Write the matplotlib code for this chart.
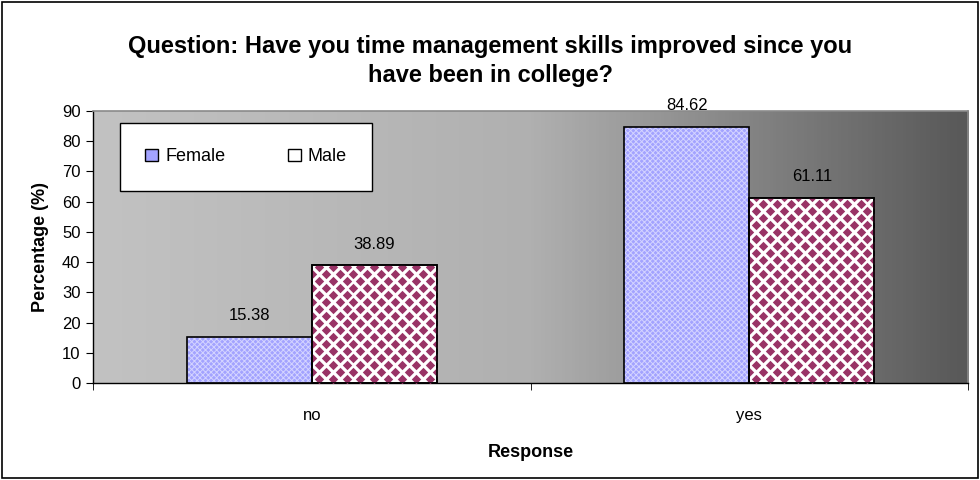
import numpy as np
import matplotlib.pyplot as plt
from matplotlib.colors import LinearSegmentedColormap
from matplotlib.patches import Rectangle, Patch

plt.rcParams['font.family'] = ['Liberation Sans', 'DejaVu Sans']
plt.rcParams['hatch.linewidth'] = 0.7

categories = ["no", "yes"]
female = [15.38, 84.62]
male = [38.89, 61.11]

fig = plt.figure(figsize=(9.8, 4.8), dpi=100)
ax = fig.add_axes([0.0949, 0.2021, 0.8929, 0.5667])

x = np.arange(len(categories))
w = 0.286

# gradient background of the plot area
grad = np.linspace(0, 1, 256).reshape(1, -1)
cmap = LinearSegmentedColormap.from_list('g', ['#c2c2c2', '#b0b0b0', '#585858'])
ax.imshow(grad, extent=(-0.5, 1.5, 0, 90), aspect='auto', cmap=cmap, zorder=0, interpolation='bicubic')

# female bars: lavender with a fine light pattern
ax.bar(x - w / 2, female, w, color='#a3a3ff', edgecolor='#d4d4ff', hatch='xxxxxx', linewidth=0, zorder=2)
ax.bar(x - w / 2, female, w, fill=False, edgecolor='black', linewidth=1.2, zorder=4)

# male bars: white with maroon diamonds
mbars = ax.bar(x + w / 2, male, w, color='white', edgecolor='black', linewidth=1.2, zorder=2)
for b in mbars:
    x0, y0, bw, bh = b.get_x(), b.get_y(), b.get_width(), b.get_height()
    dx = bw / 9.0
    dy = 2.32
    pts = []
    for i, yy in enumerate(np.arange(y0 + dy / 2, y0 + bh + dy, dy)):
        off = dx / 2 if i % 2 == 0 else 0
        for xx in np.arange(x0 + off, x0 + bw + dx, dx):
            pts.append((xx, yy))
    pts = np.array(pts)
    sc = ax.scatter(pts[:, 0], pts[:, 1], marker='D', s=23, color='#993366', linewidths=0, zorder=3)
    sc.set_clip_path(Rectangle((x0, y0), bw, bh, transform=ax.transData))
ax.bar(x + w / 2, male, w, fill=False, edgecolor='black', linewidth=1.2, zorder=4)

for xi, v in zip(x - w / 2, female):
    ax.annotate(f"{v:.2f}", (xi, v), xytext=(0, 10), textcoords='offset points', ha='center', va='bottom', fontsize=12)
for xi, v in zip(x + w / 2, male):
    ax.annotate(f"{v:.2f}", (xi, v), xytext=(0, 10), textcoords='offset points', ha='center', va='bottom', fontsize=12)

ax.set_xlim(-0.5, 1.5)
ax.set_ylim(0, 90)
ax.set_yticks(range(0, 91, 10))
ax.set_xticks(x)
ax.set_xticklabels(categories)
ax.set_xticks([-0.5, 0.5, 1.5], minor=True)
ax.tick_params(axis='x', which='major', length=0, pad=18, labelsize=12)
ax.tick_params(axis='x', which='minor', length=5, direction='out')
ax.tick_params(axis='y', length=5, direction='out', labelsize=12, pad=4)

for s in ['left', 'bottom']:
    ax.spines[s].set_color('black')
    ax.spines[s].set_linewidth(1)
for s in ['top', 'right']:
    ax.spines[s].set_color('#8a8a8a')
    ax.spines[s].set_linewidth(1.2)

ax.set_xlabel("Response", fontweight='bold', fontsize=13, labelpad=15)
ax.set_ylabel("Percentage (%)", fontweight='bold', fontsize=13, labelpad=9)

fig.text(0.5, 0.873, "Question: Have you time management skills improved since you\nhave been in college?",
         ha='center', va='center', fontweight='bold', fontsize=17, linespacing=1.3)

handles = [Patch(facecolor='#a3a3ff', edgecolor='black'), Patch(facecolor='white', edgecolor='black')]
leg = ax.legend(handles, ["Female", "Male"], loc='upper left', bbox_to_anchor=(0.031, 0.956, 0.288, 0.0),
                mode='expand', ncol=2, fancybox=False, framealpha=1, edgecolor='black', fontsize=13,
                borderpad=1.4, handlelength=0.7, handleheight=0.7, handletextpad=0.4, borderaxespad=0,
                columnspacing=2.0)
leg.get_frame().set_linewidth(1)
leg.set_zorder(5)

fig.patches.append(Rectangle((0.002, 0.004), 0.996, 0.992, transform=fig.transFigure, fill=False,
                             edgecolor='black', linewidth=1.2))

fig.savefig("out.png", dpi=100)
